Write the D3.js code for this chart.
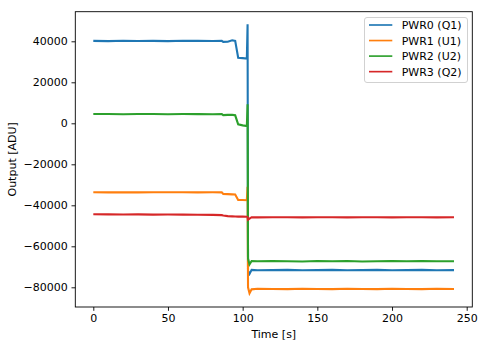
<!DOCTYPE html>
<html>
<head>
<meta charset="utf-8">
<script src="https://cdn.jsdelivr.net/npm/d3@7"></script>
<style>
  html, body { margin: 0; padding: 0; background: #fff; }
  svg { display: block; font-family: "DejaVu Sans", sans-serif; }
</style>
</head>
<body>
<svg id="chart" width="485" height="347"></svg>
<script>
// ---- data ----
const seriesNames = ["PWR0 (Q1)", "PWR1 (U1)", "PWR2 (U2)", "PWR3 (Q2)"];
const seriesColors = ["#1f77b4", "#ff7f0e", "#2ca02c", "#d62728"];

const time = [0, 10, 20, 30, 40, 50, 60, 70, 80, 86, 87, 90, 93, 95, 97, 100, 102.8,
              103.3, 103.6, 104.6, 106, 110, 120, 130, 140, 150, 160, 170, 180, 190,
              200, 210, 220, 230, 241.5];

const pwr0 = [40200, 40100, 40250, 40150, 40200, 40100, 40250, 40200, 40150, 40200, 39700, 39800, 40500, 40200, 32000, 31800, 31600,
              48300, -72000, -73500, -71500, -71700, -71600, -71500, -71700, -71600, -71500, -71700, -71600, -71500,
              -71700, -71600, -71500, -71700, -71600];
const pwr1 = [-33600, -33700, -33600, -33700, -33600, -33650, -33600, -33700, -33650, -33700, -34500, -34550, -34650, -34700, -37400, -37450, -37500,
              -31000, -80000, -82900, -81000, -80700, -80800, -80900, -80700, -80800, -80900, -80700, -80800, -80900,
              -80700, -80800, -80900, -80700, -80800];
const pwr2 = [4500, 4550, 4450, 4500, 4550, 4450, 4500, 4500, 4450, 4500, 4000, 4100, 4100, 3900, -500, -1000, -1300,
              9300, -66000, -68800, -67200, -67300, -67200, -67300, -67400, -67200, -67300, -67200, -67400, -67300,
              -67200, -67300, -67200, -67300, -67300];
const pwr3 = [-44400, -44450, -44500, -44450, -44550, -44500, -44550, -44600, -44650, -44800, -45000, -45300, -45400, -45450, -45500, -45500, -45600,
              -45700, -47000, -46500, -45800, -45900, -45800, -45850, -45900, -45800, -45850, -45900, -45800, -45850,
              -45900, -45800, -45850, -45900, -45850];

const xTicks = [0, 50, 100, 150, 200, 250];
const yTicks = [-80000, -60000, -40000, -20000, 0, 20000, 40000];
const xLabel = "Time [s]";
const yLabel = "Output [ADU]";

const allSeries = [pwr0, pwr1, pwr2, pwr3];

// ---- layout ----
const svg = d3.select("#chart");
const L = 75.3, R = 472.3, T = 11.7, B = 307;
const x = d3.scaleLinear().domain([-12.05, 253.75]).range([L, R]);
const y = d3.scaleLinear().domain([-89610, 54439]).range([B, T]);

svg.append("rect").attr("width", 485).attr("height", 347).attr("fill", "#fff");

// lines
svg.append("clipPath").attr("id", "clip")
  .append("rect").attr("x", L).attr("y", T).attr("width", R - L).attr("height", B - T);

const line = d3.line().x((d, i) => x(time[i])).y(d => y(d));
const g = svg.append("g").attr("clip-path", "url(#clip)");
allSeries.forEach((s, k) => {
  g.append("path")
    .attr("d", line(s))
    .attr("fill", "none")
    .attr("stroke", seriesColors[k])
    .attr("stroke-width", 2.1)
    .attr("stroke-linejoin", "miter")
    .attr("stroke-linecap", "butt");
});

// axes
const fmt = d3.format("d");
const xAxis = d3.axisBottom(x).tickValues(xTicks).tickFormat(fmt).tickSize(3.8).tickPadding(3.8);
const yAxis = d3.axisLeft(y).tickValues(yTicks).tickFormat(fmt).tickSize(3.8).tickPadding(3.8);

const gx = svg.append("g").attr("transform", `translate(0,${B})`).call(xAxis);
const gy = svg.append("g").attr("transform", `translate(${L},0)`).call(yAxis);
[gx, gy].forEach(a => {
  a.select(".domain").remove();
  a.selectAll("line").attr("stroke", "#000").attr("stroke-width", 0.9);
  a.selectAll("text").attr("fill", "#000").style("font-size", "11px").style("font-family", "DejaVu Sans");
});

// spines
svg.append("rect")
  .attr("x", L).attr("y", T).attr("width", R - L).attr("height", B - T)
  .attr("fill", "none").attr("stroke", "#000").attr("stroke-width", 0.9);

// axis labels
svg.append("text").attr("x", (L + R) / 2).attr("y", 337.5)
  .attr("text-anchor", "middle").style("font-size", "11px").attr("fill", "#000").text(xLabel);
svg.append("text").attr("transform", `translate(15.5,${(T + B) / 2}) rotate(-90)`)
  .attr("text-anchor", "middle").style("font-size", "11px").attr("fill", "#000").text(yLabel);

// legend
const lg = svg.append("g");
lg.append("rect").attr("x", 364.5).attr("y", 17.5).attr("width", 103).attr("height", 65)
  .attr("rx", 2.5).attr("fill", "#fff").attr("fill-opacity", 0.8)
  .attr("stroke", "#cccccc").attr("stroke-width", 0.9);
seriesNames.forEach((name, k) => {
  const cy = 25 + k * 15.55;
  lg.append("line").attr("x1", 369).attr("x2", 392.3).attr("y1", cy).attr("y2", cy)
    .attr("stroke", seriesColors[k]).attr("stroke-width", 1.65);
  lg.append("text").attr("x", 401.7).attr("y", cy + 4)
    .style("font-size", "11px").attr("fill", "#000").text(name);
});
</script>
</body>
</html>
